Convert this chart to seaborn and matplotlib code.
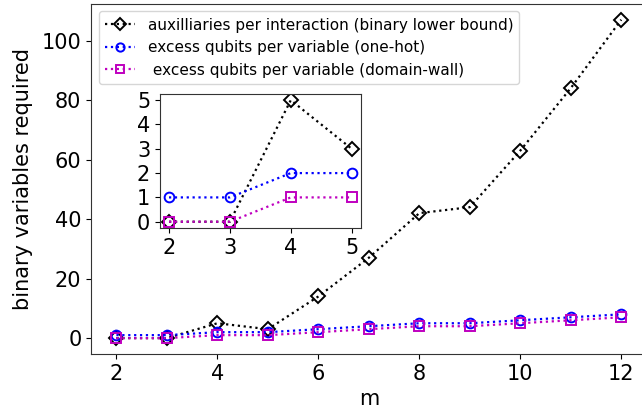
import matplotlib
matplotlib.use("Agg")
import matplotlib.pyplot as plt
import seaborn as sns
import numpy as np

sns.set_style("ticks", {"text.color": "black", "xtick.color": "black",
                        "ytick.color": "black", "axes.labelcolor": "black",
                        "axes.edgecolor": "0.2"})
plt.rcParams['font.family'] = ['DejaVu Sans']

m = [2, 3, 4, 5, 6, 7, 8, 9, 10, 11, 12]
aux = [0, 0, 5, 3, 14, 27, 42, 44, 63, 84, 107]
onehot = [1, 1, 2, 2, 3, 4, 5, 5, 6, 7, 8]
dwall = [0, 0, 1, 1, 2, 3, 4, 4, 5, 6, 7]
labels = ["auxilliaries per interaction (binary lower bound)",
          "excess qubits per variable (one-hot)",
          " excess qubits per variable (domain-wall)"]

series = [(aux, 'D', 'k'), (onehot, 'o', 'b'), (dwall, 's', 'm')]

fig = plt.figure(figsize=(6.42, 4.18), dpi=100)
ax = fig.add_axes([0.142, 0.153, 0.865, 0.838])

for (vals, mk, c), lab in zip(series, labels):
    sns.lineplot(x=m, y=vals, ax=ax, marker=mk, linestyle=':', color=c,
                 markerfacecolor='none', markeredgecolor=c, markeredgewidth=1.4,
                 markersize=7, linewidth=1.6, label=lab)

ax.set_xticks([2, 4, 6, 8, 10, 12])
ax.set_yticks([0, 20, 40, 60, 80, 100])
ax.tick_params(labelsize=15)
ax.set_xlabel("m", fontsize=15)
ax.set_ylabel("binary variables required", fontsize=15, labelpad=6)
ax.legend(loc='upper left', fontsize=11, markerscale=0.85)

ins = fig.add_axes([0.249, 0.455, 0.313, 0.32])
for vals, mk, c in series:
    sns.lineplot(x=m[:4], y=vals[:4], ax=ins, marker=mk, linestyle=':', color=c,
                 markerfacecolor='none', markeredgecolor=c, markeredgewidth=1.4,
                 markersize=7, linewidth=1.6)
ins.set_xticks([2, 3, 4, 5])
ins.set_yticks([0, 1, 2, 3, 4, 5])
ins.tick_params(labelsize=15)

fig.savefig("out.png", dpi=100)
